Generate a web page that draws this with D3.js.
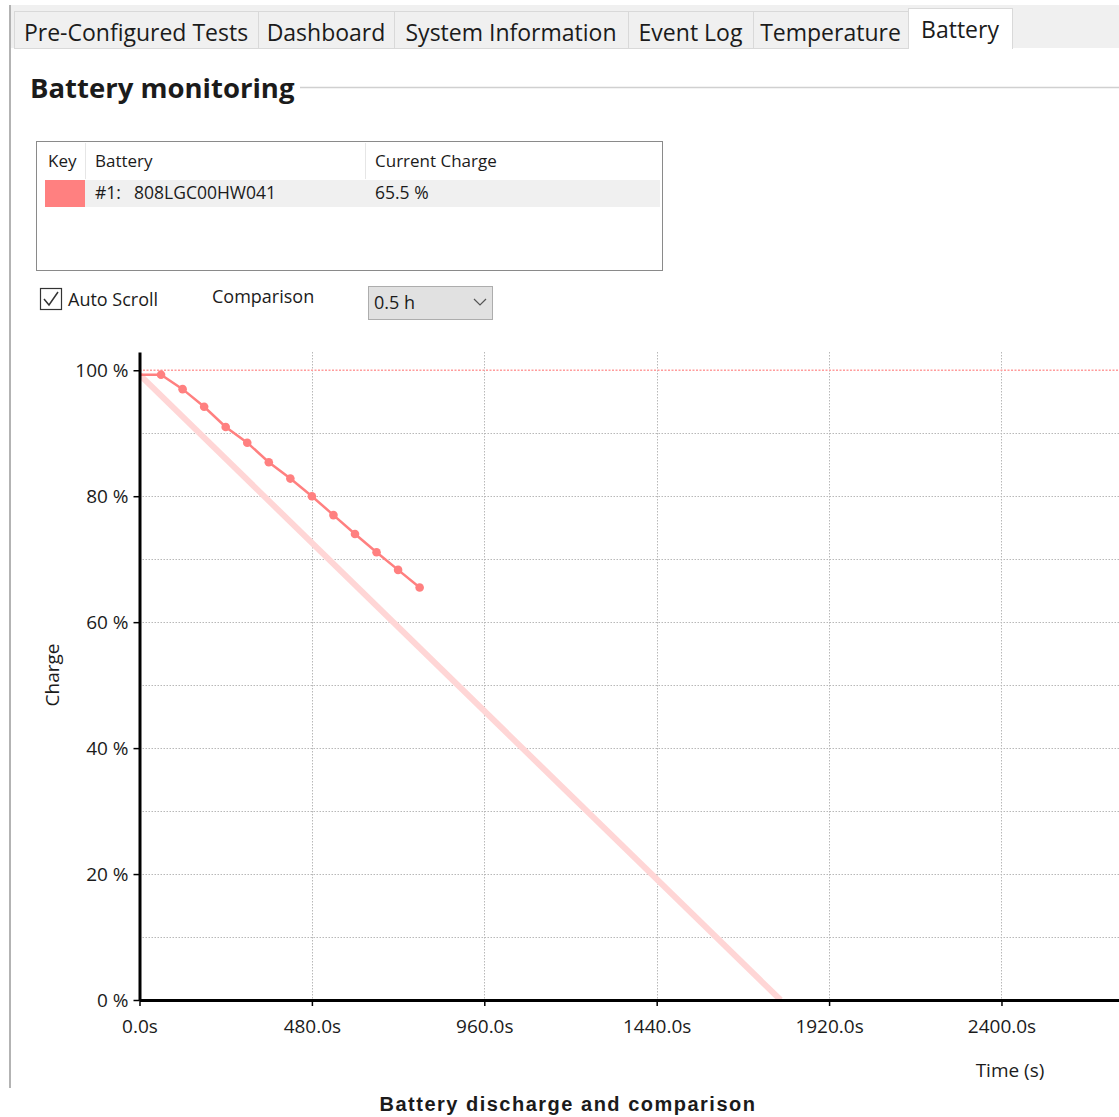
<!DOCTYPE html>
<html>
<head>
<meta charset="utf-8">
<script src="https://cdnjs.cloudflare.com/ajax/libs/d3/7.8.5/d3.min.js"></script>
<style>
  body { margin: 0; background: #fff; }
  svg text { font-family: "Segoe UI", "Open Sans", sans-serif; fill: #1b1b1b; }
</style>
</head>
<body>
<div id="chart"></div>
<script>
// ---- data ----
const tabNames = ['Pre-Configured Tests', 'Dashboard', 'System Information', 'Event Log', 'Temperature', 'Battery'];
const batteryNames = ['#1:  808LGC00HW041'];
const batteryCharge = ['65.5 %'];
const comparisonOption = '0.5 h';

// measured samples: time (s) and charge (%)
const sampleTimes = [0, 60, 120, 180, 240, 300, 360, 420, 480, 540, 600, 660, 720, 780];
const sampleCharge = [99.3, 99.3, 97.0, 94.2, 91.0, 88.5, 85.4, 82.8, 80.0, 77.0, 74.0, 71.1, 68.3, 65.5];

// comparison discharge (0.5 h reference)
const compTimes = [0, 1785];
const compCharge = [99.3, 0];

const xTicks = [0, 480, 960, 1440, 1920, 2400];
const yTicks = [0, 20, 40, 60, 80, 100];
const yGrid = [10, 20, 30, 40, 50, 60, 70, 80, 90];

// ---- layout ----
const W = 1119, H = 1117;
const tabEdges = [14, 258, 394, 628, 753, 908, 1012];
const lineColor = '#ff8080';
const uiFont = '"Segoe UI","Open Sans",sans-serif';

const svg = d3.select('#chart').append('svg')
  .attr('width', W)
  .attr('height', H);

// window frame / tab strip
svg.append('rect').attr('x', 11).attr('y', 5).attr('width', W - 11).attr('height', 43).attr('fill', '#f0f0f0');
svg.append('line').attr('x1', 10).attr('x2', 10).attr('y1', 5).attr('y2', 1088)
  .attr('stroke', '#9a9a9a').attr('stroke-width', 1.5);

const tabs = svg.append('g').attr('class', 'tabs');
tabNames.forEach((name, i) => {
  const active = i === tabNames.length - 1;
  const x0 = tabEdges[i], x1 = tabEdges[i + 1];
  tabs.append('rect')
    .attr('x', x0 + 0.5).attr('y', active ? 8.5 : 11.5)
    .attr('width', x1 - x0).attr('height', active ? 40 : 37)
    .attr('fill', active ? '#fff' : '#f0f0f0')
    .attr('stroke', '#d9d9d9');
  tabs.append('text')
    .attr('x', (x0 + x1) / 2).attr('y', active ? 38 : 41)
    .attr('text-anchor', 'middle')
    .attr('font-size', '23px')
    .text(name);
});
// cover the bottom border of the active tab
svg.append('rect').attr('x', tabEdges[5] + 1).attr('y', 47).attr('width', tabEdges[6] - tabEdges[5] - 1).attr('height', 3).attr('fill', '#fff');

// group title
svg.append('text').attr('x', 30).attr('y', 98)
  .attr('font-size', '27.5px').attr('font-weight', 'bold').attr('fill', '#000')
  .text('Battery monitoring');
svg.append('line').attr('x1', 300).attr('x2', W).attr('y1', 87.5).attr('y2', 87.5)
  .attr('stroke', '#d0d0d0').attr('stroke-width', 1.5);

// battery table
const table = svg.append('g').attr('class', 'table');
table.append('rect').attr('x', 36.5).attr('y', 141.5).attr('width', 626).attr('height', 129)
  .attr('fill', '#fff').attr('stroke', '#8a8a8a');
table.append('line').attr('x1', 85.5).attr('x2', 85.5).attr('y1', 143).attr('y2', 179).attr('stroke', '#e6e6e6');
table.append('line').attr('x1', 365.5).attr('x2', 365.5).attr('y1', 143).attr('y2', 179).attr('stroke', '#e6e6e6');
[['Key', 48], ['Battery', 95], ['Current Charge', 375]].forEach(([t, x]) => {
  table.append('text').attr('x', x).attr('y', 167).attr('font-size', '17px').text(t);
});
batteryNames.forEach((name, i) => {
  const y0 = 180 + i * 27;
  table.append('rect').attr('x', 85).attr('y', y0).attr('width', 575).attr('height', 27).attr('fill', '#f0f0f0');
  table.append('rect').attr('x', 45).attr('y', y0).attr('width', 40).attr('height', 27).attr('fill', lineColor);
  table.append('text').attr('x', 95).attr('y', y0 + 19).attr('font-size', '17.5px')
    .attr('xml:space', 'preserve').style('white-space', 'pre').attr('word-spacing', '2px').text(name);
  table.append('text').attr('x', 375).attr('y', y0 + 19).attr('font-size', '17.5px').text(batteryCharge[i]);
});

// controls
const ctl = svg.append('g').attr('class', 'controls');
ctl.append('rect').attr('x', 40.5).attr('y', 288.5).attr('width', 21).attr('height', 21)
  .attr('fill', '#fff').attr('stroke', '#333').attr('stroke-width', 1.2);
ctl.append('path').attr('d', 'M44,299 L49,305 L58,292').attr('fill', 'none')
  .attr('stroke', '#333').attr('stroke-width', 1.5);
ctl.append('text').attr('x', 68).attr('y', 306).attr('font-size', '18px').text('Auto Scroll');
ctl.append('text').attr('x', 212).attr('y', 303).attr('font-size', '18px').text('Comparison');
ctl.append('rect').attr('x', 368.5).attr('y', 286.5).attr('width', 124).attr('height', 33)
  .attr('fill', '#e1e1e1').attr('stroke', '#adadad');
ctl.append('text').attr('x', 374).attr('y', 309).attr('font-size', '18px').text(comparisonOption);
ctl.append('path').attr('d', 'M474,299 L480,305 L486,299').attr('fill', 'none')
  .attr('stroke', '#555').attr('stroke-width', 1.2);

// ---- chart ----
const plotTop = 352, plotBottom = 1000, plotLeft = 139.5, plotRight = 1120;
const x = d3.scaleLinear().domain([0, 2730]).range([plotLeft, plotRight]);
const y = d3.scaleLinear().domain([0, 102.9]).range([plotBottom, plotTop]);

const chart = svg.append('g').attr('class', 'chart');

svg.append('clipPath').attr('id', 'plotClip').append('rect')
  .attr('x', plotLeft).attr('y', plotTop).attr('width', plotRight - plotLeft).attr('height', plotBottom - plotTop);

// grid
chart.append('g').selectAll('line').data(yGrid).join('line')
  .attr('x1', plotLeft).attr('x2', plotRight)
  .attr('y1', d => Math.round(y(d)) + 0.5).attr('y2', d => Math.round(y(d)) + 0.5)
  .attr('stroke', '#b8b8b8').attr('stroke-dasharray', '1.5,1.5');
chart.append('g').selectAll('line').data(xTicks.slice(1)).join('line')
  .attr('x1', d => Math.round(x(d)) + 0.5).attr('x2', d => Math.round(x(d)) + 0.5)
  .attr('y1', plotTop).attr('y2', plotBottom)
  .attr('stroke', '#b8b8b8').attr('stroke-dasharray', '1.5,1.5');

// 100 % reference
chart.append('line')
  .attr('x1', plotLeft).attr('x2', plotRight)
  .attr('y1', y(100)).attr('y2', y(100))
  .attr('stroke', '#ff9c9c').attr('stroke-width', 1.5).attr('stroke-dasharray', '2,1.5');

// comparison line
const compData = compTimes.map((t, i) => [t, compCharge[i]]);
chart.append('path').datum(compData)
  .attr('clip-path', 'url(#plotClip)')
  .attr('fill', 'none').attr('stroke', '#ffd6d6').attr('stroke-width', 6)
  .attr('d', d3.line().x(d => x(d[0])).y(d => y(d[1])));

// measured series (the marker on the y axis itself is hidden by the axis)
const sampleData = sampleTimes.map((t, i) => [t, sampleCharge[i]]);
chart.append('path').datum(sampleData)
  .attr('fill', 'none').attr('stroke', lineColor).attr('stroke-width', 2.5)
  .attr('d', d3.line().x(d => x(d[0])).y(d => y(d[1])));
chart.append('g').selectAll('circle').data(sampleData.filter(d => d[0] > 0)).join('circle')
  .attr('cx', d => x(d[0])).attr('cy', d => y(d[1])).attr('r', 4.3)
  .attr('fill', lineColor);

// axes
const yAxis = chart.append('g').attr('transform', `translate(${plotLeft},0)`)
  .call(d3.axisLeft(y).tickValues(yTicks).tickSizeInner(6).tickSizeOuter(0).tickPadding(5)
    .tickFormat(d => d + ' %'));
const xAxis = chart.append('g').attr('transform', `translate(0,${plotBottom})`)
  .call(d3.axisBottom(x).tickValues(xTicks).tickSizeInner(6).tickSizeOuter(0).tickPadding(14)
    .tickFormat(d => d.toFixed(1) + 's'));
[yAxis, xAxis].forEach(a => {
  a.select('.domain').attr('stroke', '#000').attr('stroke-width', 3);
  a.selectAll('.tick line').attr('stroke', '#000').attr('stroke-width', 1.5);
  a.selectAll('.tick text').attr('font-family', uiFont)
    .attr('font-size', '19px').attr('fill', '#1b1b1b');
});

// axis titles
chart.append('text').attr('transform', 'translate(59,675) rotate(-90)')
  .attr('text-anchor', 'middle').attr('font-size', '19px').text('Charge');
chart.append('text').attr('x', 1010).attr('y', 1077)
  .attr('text-anchor', 'middle').attr('font-size', '19px').text('Time (s)');

// caption
svg.append('text').attr('x', 568).attr('y', 1111)
  .attr('text-anchor', 'middle')
  .style('font-family', '"Liberation Sans", Arial, sans-serif')
  .attr('font-size', '20px').attr('font-weight', 'bold').attr('letter-spacing', '1.5px')
  .attr('fill', '#000')
  .text('Battery discharge and comparison');
</script>
</body>
</html>
